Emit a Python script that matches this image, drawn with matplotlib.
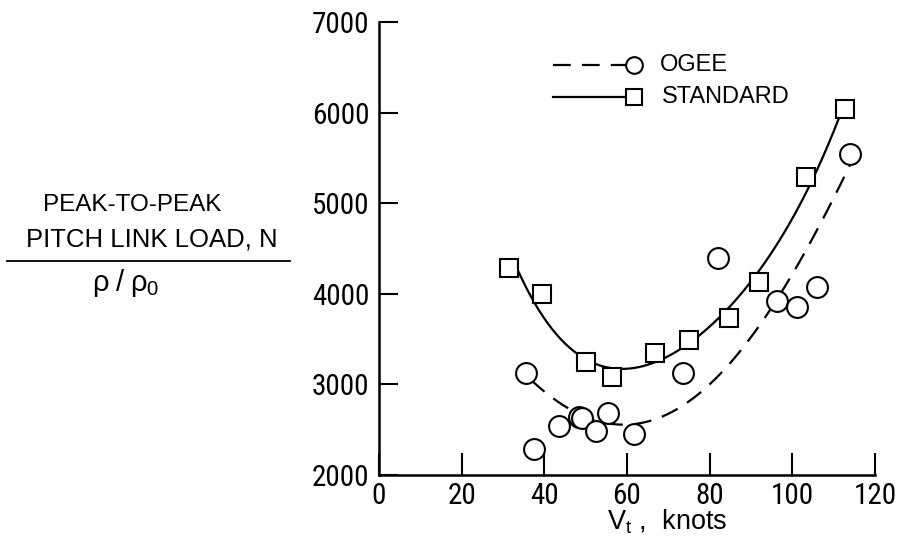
import numpy as np
import matplotlib
matplotlib.use("Agg")
import matplotlib.pyplot as plt
from matplotlib import font_manager

names = {f.name for f in font_manager.fontManager.ttflist}
narrow = None
for cand in ['Liberation Sans Narrow', 'Arial Narrow', 'Nimbus Sans Narrow', 'Roboto Condensed', 'Open Sans Condensed']:
    if cand in names:
        narrow = cand
        break
base = 'Liberation Sans'
tick_font = narrow if narrow else base
tick_size = 21 if narrow else 18

plt.rcParams['font.family'] = [base, 'DejaVu Sans']
plt.rcParams['mathtext.fontset'] = 'custom'
plt.rcParams['mathtext.rm'] = base
plt.rcParams['mathtext.it'] = base

# ---- data ----
ogee_x = [35.5, 37.6, 43.6, 48.4, 49.2, 52.5, 55.3, 61.8, 73.6, 82.0, 96.3, 101.2, 106.0, 114.0]
ogee_y = [3123, 2284, 2544, 2640, 2625, 2489, 2687, 2453, 3126, 4391, 3920, 3851, 4078, 5540]
std_x = [31.5, 39.5, 50.1, 56.3, 66.7, 75.1, 84.6, 92.0, 103.4, 112.8]
std_y = [4285, 3998, 3251, 3078, 3343, 3485, 3737, 4128, 5290, 6038]

# faired curves
std_curve_x = [33.5, 37.8, 42.2, 47.0, 52.3, 58.4, 64.0, 68.8, 72.1, 76.1, 84.6, 91.4, 103.5, 111.8]
std_curve_y = [4265, 3895, 3600, 3380, 3195, 3140, 3214, 3306, 3398, 3540, 3790, 4152, 5219, 5970]
ogee_curve_x = [36.8, 41.0, 45.0, 50.0, 57.5, 64.0, 70.5, 77.7, 87.4, 95.9, 105.2, 114.2]
ogee_curve_y = [3065, 2880, 2736, 2630, 2563, 2600, 2717, 2902, 3306, 3932, 4668, 5430]

x_ticks = [0, 20, 40, 60, 80, 100, 120]
y_ticks = [2000, 3000, 4000, 5000, 6000, 7000]

fig = plt.figure(figsize=(8.98, 5.52), dpi=100)
ax = fig.add_axes([379/898, 77/552, 496/898, 453/552])
ax.set_xlim(0, 120)
ax.set_ylim(2000, 7000)
ax.set_xticks(x_ticks)
ax.set_yticks(y_ticks)
ax.set_xticklabels([str(v) for v in x_ticks], family=tick_font, fontsize=tick_size)
ax.set_yticklabels([str(v) for v in y_ticks], family=tick_font, fontsize=tick_size)
for s in ['top', 'right']:
    ax.spines[s].set_visible(False)
for s in ['left', 'bottom']:
    ax.spines[s].set_linewidth(1.8)
ax.tick_params(axis='x', direction='in', length=16, width=1.5, pad=5)
ax.tick_params(axis='y', direction='in', length=14, width=1.5, pad=7)

def smooth(xs, ys, deg=4):
    c = np.polyfit(xs, ys, deg)
    xx = np.linspace(min(xs), max(xs), 300)
    return xx, np.polyval(c, xx)

sx, sy = smooth(std_curve_x, std_curve_y)
ox, oy = smooth(ogee_curve_x, ogee_curve_y)
ax.plot(sx, sy, '-', color='black', lw=1.6, zorder=2)
ax.plot(ox, oy, color='black', lw=1.6, dashes=(8, 5), zorder=2)

ax.plot(ogee_x, ogee_y, 'o', ms=15, mfc='white', mec='black', mew=1.5, zorder=3, clip_on=False)
ax.plot(std_x, std_y, 's', ms=13.5, mfc='white', mec='black', mew=1.5, zorder=3, clip_on=False)

# legend (manual, axes coordinates)
tr = ax.transAxes
ax.plot([0.35, 0.5], [0.905, 0.905], color='black', lw=1.6, dashes=(8, 5), transform=tr)
ax.plot([0.514], [0.905], 'o', ms=12, mfc='white', mec='black', mew=1.5, transform=tr)
ax.text(0.566, 0.905, 'OGEE', transform=tr, fontsize=17, va='center', ha='left')
ax.plot([0.35, 0.5], [0.834, 0.834], color='black', lw=1.6, transform=tr)
ax.plot([0.514], [0.834], 's', ms=11, mfc='white', mec='black', mew=1.5, transform=tr)
ax.text(0.570, 0.834, 'STANDARD', transform=tr, fontsize=17, va='center', ha='left')

# x label
fig.text(667/898, 1 - 522/552, r'$\mathrm{V_t}$ ,  knots', fontsize=19.5, ha='center', va='center')

# y label as a fraction
fig.text(132/898, 1 - 205/552, 'PEAK-TO-PEAK', fontsize=17.5, ha='center', va='center')
fig.text(152/898, 1 - 240/552, 'PITCH LINK LOAD, N', fontsize=18.5, ha='center', va='center')
fig.add_artist(plt.Line2D([7/898, 290/898], [1 - 261/552, 1 - 261/552], color='black', lw=1.3))
fig.text(126/898, 1 - 283/552, r'$\mathrm{\rho\;/\;\rho_0}$', fontsize=21, ha='center', va='center')

fig.savefig('out.png', dpi=100)
